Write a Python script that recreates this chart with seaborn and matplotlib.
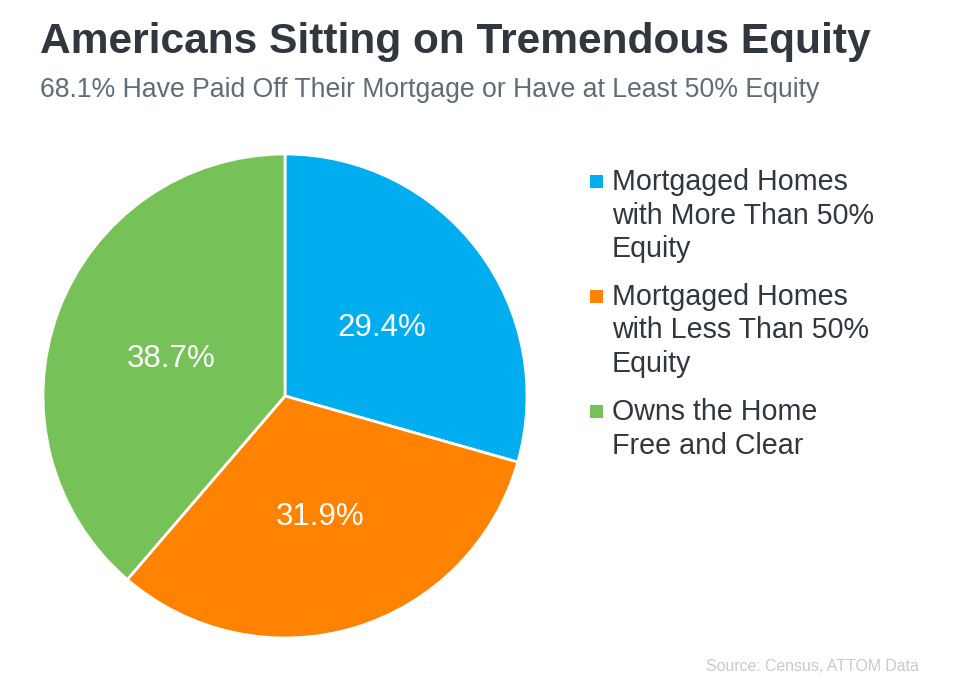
import matplotlib
matplotlib.use("Agg")
import matplotlib.pyplot as plt
import matplotlib.transforms as mtransforms
from matplotlib.patches import Rectangle
import seaborn as sns

# ---- data ----
categories = [
    "Mortgaged Homes\nwith More Than 50%\nEquity",
    "Mortgaged Homes\nwith Less Than 50%\nEquity",
    "Owns the Home\nFree and Clear",
]
shares = [29.4, 31.9, 38.7]
colors = ["#00AEEF", "#FF8200", "#77C159"]

title = "Americans Sitting on Tremendous Equity"
subtitle = "68.1% Have Paid Off Their Mortgage or Have at Least 50% Equity"
source = "Source: Census, ATTOM Data"

sns.set_theme(style="white")
sns.set_palette(colors)
plt.rcParams["font.family"] = ["Liberation Sans", "DejaVu Sans"]

W, H = 960, 692
fig = plt.figure(figsize=(W / 100, H / 100), dpi=100)
fig.patch.set_facecolor("white")

def fx(px):
    return px / W

def fy(py):
    return 1 - py / H

# pie axes: centre (285, 396), radius 242 px
cx, cy, r = 285, 396, 242
ax = fig.add_axes([fx(cx - r), fy(cy + r), 2 * r / W, 2 * r / H])
wedges, texts, autotexts = ax.pie(
    shares,
    colors=sns.color_palette(colors),
    startangle=90,
    counterclock=False,
    autopct="%.1f%%",
    pctdistance=0.5,
    radius=1,
    wedgeprops=dict(edgecolor="white", linewidth=2),
    textprops=dict(color="white", fontsize=22.5),
)
shift = mtransforms.ScaledTranslation(0, -5 / 100, fig.dpi_scale_trans)
for t in autotexts:
    t.set_transform(ax.transData + shift)
ax.set_xlim(-1, 1)
ax.set_ylim(-1, 1)
ax.set_aspect("equal")
ax.axis("off")

# title / subtitle
fig.text(fx(40), fy(53), title, fontsize=30.6, fontweight="bold",
         color="#30373F", va="baseline", ha="left")
fig.text(fx(40), fy(97), subtitle, fontsize=19.2, color="#5E6D76",
         va="baseline", ha="left")

# legend (manual layout)
item_baselines = [190, 305, 420]
line_gap = 33.5
for lab, col, yb in zip(categories, colors, item_baselines):
    fig.add_artist(Rectangle((fx(590), fy(yb - 2)), 13 / W, 13 / H,
                             transform=fig.transFigure, facecolor=col,
                             edgecolor="none"))
    for k, line in enumerate(lab.split("\n")):
        fig.text(fx(612), fy(yb + k * line_gap), line, fontsize=20.6,
                 color="#30373F", va="baseline", ha="left")

fig.text(fx(919), fy(671), source, fontsize=11.4, color="#C3CBCF",
         va="baseline", ha="right")

fig.savefig("out.png", dpi=100, facecolor="white")
